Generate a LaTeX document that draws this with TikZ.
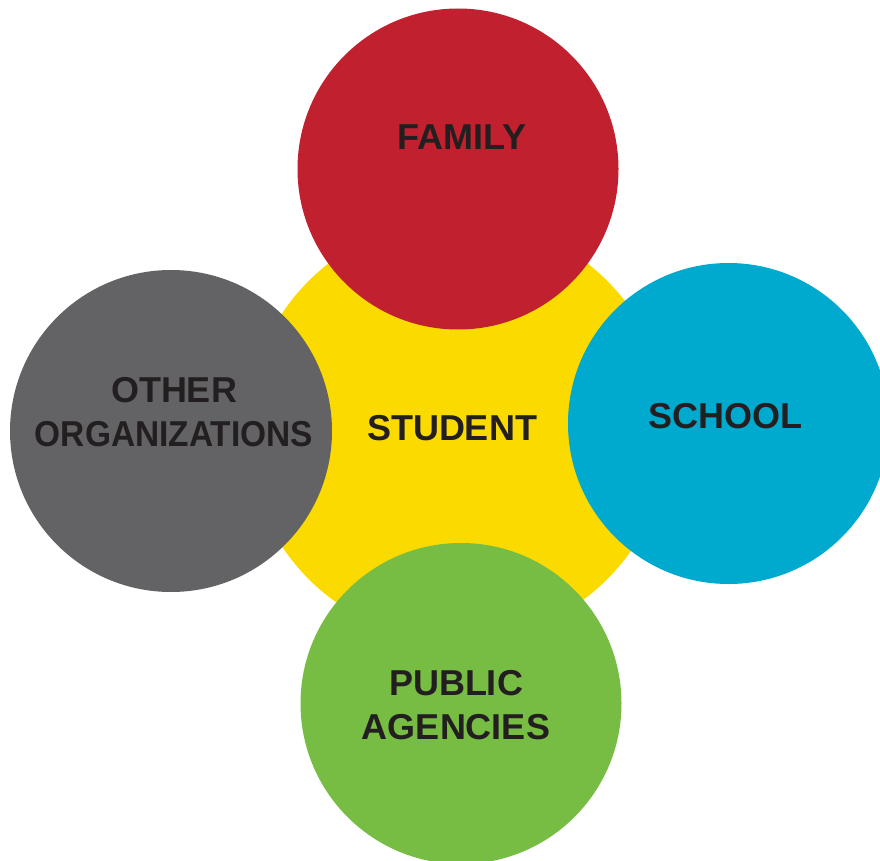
\documentclass[tikz,border=0pt]{standalone}
\usepackage{fontspec}
\setmainfont{Liberation Sans}
\usepackage{tikz}
\usetikzlibrary{positioning}

\definecolor{cred}{HTML}{C1202F}
\definecolor{cyellow}{HTML}{FBDA00}
\definecolor{cgray}{HTML}{636366}
\definecolor{cblue}{HTML}{00A9CE}
\definecolor{cgreen}{HTML}{77BC43}
\definecolor{ctext}{HTML}{231F20}

\tikzset{
  disc/.style={circle, inner sep=0pt, outer sep=0pt, draw=none, minimum size=#1},
  lbl/.style={inner sep=0pt, align=center, text=ctext,
    font=\fontsize{36}{44}\selectfont\bfseries}
}

\begin{document}
\begin{tikzpicture}[x=1pt, y=-1pt]

  \useasboundingbox (0,0) rectangle (880,861);

  % centre
  \node[disc=422pt, fill=cyellow] (student) at (458,430) {};

  % the four around it
  \node[disc=321pt, fill=cred] (family) at (458,169) {};
  \node[disc=322pt, fill=cgray] (other) at (171,431) {};
  \node[disc=321pt, fill=cblue] (school) at (728.5,423.5) {};
  \node[disc=321pt, fill=cgreen] (public) at (461,703.5) {};

  % texts
  \node[lbl] (studenttxt) at (452,428) {STUDENT};
  \node[lbl] (familytxt) at (462,137) {FAMILY};
  \node[lbl] (schooltxt) at (725,416) {SCHOOL};
  \node[lbl] (othertxt) at (174,412) {OTHER\\\scalebox{0.93}[1]{ORGANIZATIONS}};
  \node[lbl] (publictxt) at (456,705) {PUBLIC\\AGENCIES};

\end{tikzpicture}
\end{document}
